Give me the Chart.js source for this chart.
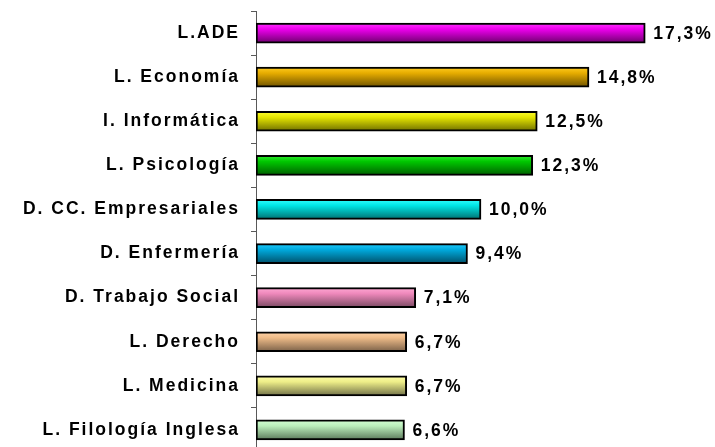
<!DOCTYPE html>
<html>
<head>
<meta charset="utf-8">
<script src="https://cdn.jsdelivr.net/npm/chart.js@4/dist/chart.umd.min.js"></script>
<style>
  html, body { margin: 0; padding: 0; background: #ffffff; }
  #wrap { width: 715px; height: 447px; overflow: hidden; position: relative; }
  canvas { display: block; }
</style>
</head>
<body>
<div id="wrap"><canvas id="c" width="715" height="452"></canvas></div>
<script>
const categories = ['L.ADE', 'L. Economía', 'I. Informática', 'L. Psicología', 'D. CC. Empresariales', 'D. Enfermería', 'D. Trabajo Social', 'L. Derecho', 'L. Medicina', 'L. Filología Inglesa'];
const values = [17.3, 14.8, 12.5, 12.3, 10.0, 9.4, 7.1, 6.7, 6.7, 6.6];
const topColors = ['#ff33ff', '#ffcc22', '#ffff33', '#33ee33', '#33ffff', '#22ccff', '#ffaad4', '#ffd4aa', '#ffffaa', '#d4ffd4'];
const baseColors = ['#ee00ee', '#e6ac00', '#e6e600', '#00c800', '#00e6e6', '#00aadd', '#ee88bb', '#eebb88', '#eeee88', '#bbeebb'];
const darkColors = ['#6e006e', '#6e5200', '#6e6e00', '#005e00', '#006e6e', '#00506a', '#7a4a62', '#7a6048', '#707048', '#5a785a'];

const FONT = { family: '"Liberation Sans", Arial, sans-serif', size: 17.5, weight: 'bold' };
const SPACING = '2px';
const BAR_T = 20;

const spacingPlugin = {
  id: 'spacing',
  beforeUpdate(chart) { chart.ctx.letterSpacing = SPACING; },
  beforeLayout(chart) { chart.ctx.letterSpacing = SPACING; },
  beforeDraw(chart) { chart.ctx.letterSpacing = SPACING; }
};

const valueLabels = {
  id: 'valueLabels',
  afterDatasetsDraw(chart) {
    const ctx = chart.ctx;
    const meta = chart.getDatasetMeta(0);
    ctx.save();
    ctx.letterSpacing = SPACING;
    ctx.font = `${FONT.weight} ${FONT.size}px ${FONT.family}`;
    ctx.fillStyle = '#000000';
    ctx.textAlign = 'left';
    ctx.textBaseline = 'middle';
    meta.data.forEach((bar, i) => {
      const txt = values[i].toFixed(1).replace('.', ',') + '%';
      ctx.fillText(txt, bar.x + 8, bar.y + 1);
    });
    ctx.restore();
  }
};

function gradientFor(context) {
  const chart = context.chart;
  const i = context.dataIndex;
  const ys = chart.scales.y;
  if (!ys || ys.top === undefined) return baseColors[i];
  const yc = ys.getPixelForValue(i);
  const g = chart.ctx.createLinearGradient(0, yc - BAR_T / 2, 0, yc + BAR_T / 2);
  g.addColorStop(0, topColors[i]);
  g.addColorStop(0.3, baseColors[i]);
  g.addColorStop(1, darkColors[i]);
  return g;
}

new Chart(document.getElementById('c'), {
  type: 'bar',
  data: {
    labels: categories,
    datasets: [{
      data: values,
      backgroundColor: gradientFor,
      borderColor: '#000000',
      borderWidth: 2,
      borderSkipped: false,
      barThickness: BAR_T
    }]
  },
  options: {
    indexAxis: 'y',
    responsive: false,
    animation: false,
    devicePixelRatio: 1,
    layout: { padding: { top: 11, right: 9, bottom: 0, left: 0 } },
    plugins: {
      legend: { display: false },
      tooltip: { enabled: false }
    },
    scales: {
      x: { display: false, min: 0, max: 20 },
      y: {
        afterFit(scale) {
          scale.width = 256;
          scale.paddingTop = 0;
          scale.paddingBottom = 0;
        },
        border: { display: true, color: '#595959', width: 1 },
        grid: { drawOnChartArea: false, drawTicks: true, tickLength: 5, color: '#595959', offset: true },
        ticks: { color: '#000000', font: FONT, padding: 11 }
      }
    }
  },
  plugins: [spacingPlugin, valueLabels]
});
</script>
</body>
</html>
